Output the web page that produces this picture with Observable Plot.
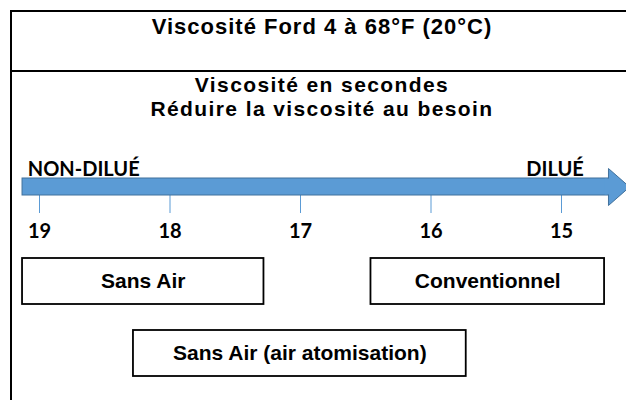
<!DOCTYPE html>
<html>
<head>
<meta charset="utf-8">
<script src="https://cdn.jsdelivr.net/npm/d3@7"></script>
<script src="https://cdn.jsdelivr.net/npm/@observablehq/plot@0.6"></script>
<style>
  html, body { margin: 0; padding: 0; background: #fff; }
  body { width: 626px; height: 400px; overflow: hidden; position: relative; }
  #frame { position: absolute; left: 10px; top: 10px; width: 700px; height: 500px;
           border: 2px solid #000; box-sizing: border-box; z-index: 2; pointer-events: none; }
  #sep { position: absolute; left: 10px; top: 70px; width: 700px; height: 2px; background: #000; z-index: 2; }
  .hdr { position: absolute; left: 12px; width: 620px; text-align: center;
         font-family: "Liberation Sans", Arial, sans-serif; font-weight: bold;
         color: #000; white-space: nowrap; z-index: 3; }
  #title { top: 16px; line-height: 22px; font-size: 22px; letter-spacing: 1px; }
  .sub { line-height: 24px; height: 24px; font-size: 21px; letter-spacing: 1.4px; }
  #sub1 { top: 73px; }
  #sub2 { top: 97px; }
  #chart { position: absolute; left: 0; top: 120px; z-index: 1; }
</style>
</head>
<body>
<div id="frame"></div>
<div id="sep"></div>
<div id="title" class="hdr"></div>
<div id="sub1" class="hdr sub"></div>
<div id="sub2" class="hdr sub"></div>
<div id="chart"></div>
<script>
// ---- Data ----
const titleText = "Viscosité Ford 4 à 68°F (20°C)";
const subtitleLines = ["Viscosité en secondes", "Réduire la viscosité au besoin"];
const ticks = [19, 18, 17, 16, 15];            // viscosity, seconds
const endLabels = ["NON-DILUÉ", "DILUÉ"];
const endLabelAt = [19.09, 15.27];             // seconds
const arrowFrom = 19.13, arrowTo = 14.64;      // seconds
const methods = ["Sans Air", "Conventionnel", "Sans Air (air atomisation)"];
const methodFrom = [19.13, 16.46, 18.28];      // seconds
const methodTo = [17.28, 14.67, 15.73];        // seconds
const methodRow = ["ligne 1", "ligne 1", "ligne 2"];
const lanes = ["flèche", "ligne 1", "ligne 2"];

document.getElementById("title").textContent = titleText;
document.getElementById("sub1").textContent = subtitleLines[0];
document.getElementById("sub2").textContent = subtitleLines[1];

const boxes = methods.map((m, i) => ({label: m, x1: methodFrom[i], x2: methodTo[i], row: methodRow[i], x: (methodFrom[i] + methodTo[i]) / 2}));
const tickData = ticks.map(t => ({t, lane: "flèche"}));
const ends = endLabels.map((l, i) => ({label: l, x: endLabelAt[i], lane: "flèche"}));
const arrow = [{x1: arrowFrom, x2: arrowTo, lane: "flèche"}];
const head = [{x: arrowTo, lane: "flèche"}];
const patch = [{x1: arrowTo + 0.025, x2: arrowTo - 0.02, lane: "flèche"}];

const arrowHead = {
  draw(context, size) {
    const r = Math.sqrt(size / Math.PI);
    context.moveTo(0, -r);
    context.lineTo(r * 1.14, 0);
    context.lineTo(0, r);
    context.closePath();
  }
};

const fill = "#5B9BD5", edge = "#41719C";
const calib = "Lato, 'Open Sans', sans-serif";
const arial = "'Liberation Sans', Arial, sans-serif";

const chart = Plot.plot({
  width: 626,
  height: 280,
  marginLeft: 39,
  marginRight: 65,
  marginTop: 53,
  marginBottom: 11,
  style: {background: "transparent", overflow: "hidden"},
  x: {domain: [19, 15], axis: null},
  y: {type: "band", domain: lanes, padding: 0, axis: null},
  marks: [
    // end labels
    Plot.text(ends, {x: "x", y: "lane", text: "label", textAnchor: "start", lineAnchor: "bottom",
      dy: -34, fontFamily: calib, fontWeight: "bold", fontSize: 20, fill: "#000"}),
    // ticks under the arrow
    Plot.tickX(tickData, {x: "t", y: "lane", stroke: fill, strokeWidth: 1, insetTop: 22, insetBottom: 32}),
    // arrow bar
    Plot.rect(arrow, {x1: "x1", x2: "x2", y: "lane", insetTop: 5, insetBottom: 50, fill, stroke: edge, strokeWidth: 1}),
    // arrow head
    Plot.dot(head, {x: "x", y: "lane", symbol: arrowHead, r: 18.5, dy: -22.5, fill, stroke: edge, strokeWidth: 1}),
    Plot.rect(patch, {x1: "x1", x2: "x2", y: "lane", insetTop: 5.6, insetBottom: 50.6, fill}),
    // tick labels
    Plot.text(tickData, {x: "t", y: "lane", text: d => String(d.t), lineAnchor: "bottom", dy: 28,
      fontFamily: calib, fontWeight: "bold", fontSize: 20, fill: "#000"}),
    // method boxes
    Plot.rect(boxes, {x1: "x1", x2: "x2", y: "row", insetTop: 13, insetBottom: 13, fill: "#fff", stroke: "#000", strokeWidth: 1.8}),
    Plot.text(boxes, {x: "x", y: "row", text: "label", lineAnchor: "middle",
      fontFamily: arial, fontWeight: "bold", fontSize: 21, fill: "#000"})
  ]
});
document.getElementById("chart").appendChild(chart);
</script>
</body>
</html>
